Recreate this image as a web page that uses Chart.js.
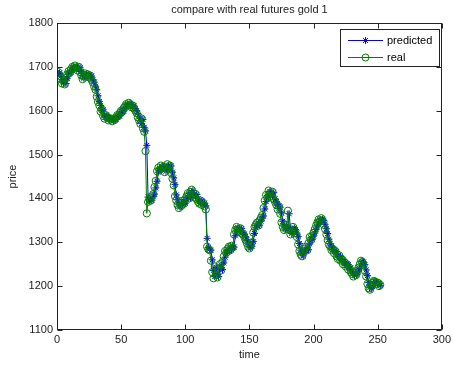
<!DOCTYPE html>
<html>
<head>
<meta charset="utf-8">
<script src="https://cdn.jsdelivr.net/npm/chart.js@4"></script>
<style>
  html, body { margin: 0; padding: 0; background: #fff; }
  #wrap { width: 454px; height: 368px; }
</style>
</head>
<body>
<div id="wrap"><canvas id="chart" width="454" height="368"></canvas></div>
<script>
// ---- data (one value per time step, t = 1..252) ----
const realPrice = [
  1688,1680,1672,1662,1668,1660,1675,1683,1690,1686,
  1695,1700,1697,1703,1698,1692,1700,1688,1680,1672,
  1678,1685,1679,1683,1676,1680,1670,1664,1655,1648,
  1632,1620,1612,1598,1603,1588,1582,1590,1585,1578,
  1583,1580,1576,1582,1579,1585,1590,1588,1595,1600,
  1598,1606,1610,1615,1612,1618,1614,1608,1612,1605,
  1600,1595,1585,1578,1570,1582,1560,1552,1508,1366,
  1392,1398,1395,1405,1410,1426,1440,1462,1470,1465,
  1475,1468,1472,1460,1470,1478,1466,1475,1458,1445,
  1430,1405,1395,1385,1378,1390,1383,1395,1388,1398,
  1405,1412,1400,1415,1420,1408,1402,1410,1398,1392,
  1388,1395,1385,1390,1382,1375,1290,1284,1282,1258,
  1232,1218,1245,1225,1220,1240,1250,1236,1255,1268,
  1280,1276,1285,1290,1282,1292,1288,1318,1328,1335,
  1330,1325,1332,1320,1318,1312,1305,1298,1290,1286,
  1292,1300,1322,1335,1340,1345,1338,1350,1356,1362,
  1378,1395,1408,1402,1418,1412,1405,1415,1398,1392,
  1385,1375,1382,1365,1345,1335,1328,1340,1330,1372,
  1330,1318,1325,1335,1328,1320,1312,1295,1280,1272,
  1268,1278,1285,1290,1282,1298,1312,1305,1315,1322,
  1330,1338,1345,1352,1348,1355,1350,1340,1330,1318,
  1305,1295,1290,1282,1285,1275,1280,1268,1262,1270,
  1258,1262,1250,1255,1245,1250,1238,1242,1232,1228,
  1222,1230,1225,1235,1242,1250,1258,1255,1248,1235,
  1222,1205,1195,1192,1200,1208,1212,1210,1205,1208,
  1200,1203
];

const predictedPrice = [
  1685,1686,1679,1671,1664,1667,1662,1674,1684,1689,
  1687,1694,1699,1698,1701,1697,1693,1698,1689,1681,
  1674,1678,1684,1680,1682,1677,1679,1671,1665,1656,
  1648,1634,1621,1612,1600,1602,1590,1584,1589,1585,
  1579,1582,1580,1577,1581,1580,1584,1589,1588,1594,
  1599,1599,1605,1609,1614,1613,1617,1614,1609,1611,
  1605,1600,1594,1586,1577,1571,1580,1562,1554,1521,
  1403,1394,1397,1396,1404,1410,1424,1439,1460,1468,
  1466,1474,1469,1471,1462,1469,1476,1467,1474,1460,
  1447,1432,1408,1397,1387,1380,1389,1385,1394,1389,
  1397,1404,1411,1402,1414,1418,1409,1403,1409,1399,
  1393,1389,1394,1386,1389,1383,1309,1288,1284,1282,
  1260,1236,1222,1243,1227,1222,1238,1248,1238,1253,
  1266,1278,1277,1284,1289,1283,1290,1289,1315,1326,
  1333,1330,1326,1331,1322,1319,1313,1306,1299,1291,
  1288,1291,1302,1320,1333,1339,1344,1339,1348,1355,
  1360,1376,1393,1406,1403,1416,1412,1406,1413,1399,
  1393,1386,1377,1380,1367,1348,1337,1330,1338,1331,
  1365,1331,1320,1324,1333,1329,1321,1313,1297,1282,
  1274,1269,1277,1284,1289,1283,1296,1310,1306,1314,
  1321,1329,1337,1344,1351,1348,1353,1350,1341,1331,
  1320,1307,1297,1291,1284,1284,1277,1279,1270,1264,
  1268,1259,1261,1252,1254,1247,1249,1240,1241,1234,
  1229,1224,1229,1226,1234,1240,1248,1256,1255,1249,
  1237,1224,1208,1198,1194,1199,1206,1210,1209,1206,
  1207,1201
];

const xTicks = [0, 50, 100, 150, 200, 250, 300];
const yTicks = [1100, 1200, 1300, 1400, 1500, 1600, 1700, 1800];
const seriesNames = ["predicted", "real"];
const titleText = "compare with real futures gold 1";
const xTitle = "time";
const yTitle = "price";

// ---- style ----
const FONT = "'Liberation Sans', Arial, sans-serif";
const BLUE = "#0000ff";
const GREEN = "#008000";
const INK = "#222";

// matlab style : box, inside ticks, titles, legend
const matlabFrame = {
  id: "matlabFrame",
  afterDraw(chart) {
    const c = chart.ctx;
    const a = chart.chartArea;
    const xs = chart.scales.x, ys = chart.scales.y;
    const L = Math.round(a.left) + 0.5, R = Math.round(a.right) - 0.5;
    const T = Math.round(a.top) + 0.5, B = Math.round(a.bottom) - 0.5;

    c.save();
    c.strokeStyle = INK;
    c.lineWidth = 1;
    c.strokeRect(L, T, R - L, B - T);

    // tick marks (inside, on all four sides)
    const tl = 5;
    c.beginPath();
    xTicks.forEach(v => {
      const px = Math.round(xs.getPixelForValue(v)) + 0.5;
      c.moveTo(px, B); c.lineTo(px, B - tl);
      c.moveTo(px, T); c.lineTo(px, T + tl);
    });
    yTicks.forEach(v => {
      const py = Math.round(ys.getPixelForValue(v)) + 0.5;
      c.moveTo(L, py); c.lineTo(L + tl, py);
      c.moveTo(R, py); c.lineTo(R - tl, py);
    });
    c.stroke();

    // titles
    c.fillStyle = INK;
    c.font = "11px " + FONT;
    c.textAlign = "center";
    c.textBaseline = "middle";
    c.fillText(titleText, (a.left + a.right) / 2, 10);
    c.fillText(xTitle, (a.left + a.right) / 2, 355);
    c.translate(13, (a.top + a.bottom) / 2);
    c.rotate(-Math.PI / 2);
    c.fillText(yTitle, 0, 0);
    c.setTransform(1, 0, 0, 1, 0, 0);

    // legend
    const bx = 340.5, by = 29.5, bw = 99, bh = 37;
    c.fillStyle = "#fff";
    c.fillRect(bx, by, bw, bh);
    c.strokeStyle = INK;
    c.strokeRect(bx, by, bw, bh);
    const rows = [
      { name: seriesNames[0], color: BLUE, y: 40.5, marker: "star" },
      { name: seriesNames[1], color: GREEN, y: 57.5, marker: "circle" }
    ];
    rows.forEach(r => {
      c.strokeStyle = r.color;
      c.lineWidth = 1;
      c.beginPath();
      c.moveTo(348, r.y); c.lineTo(383, r.y);
      c.stroke();
      c.fillStyle = "rgba(0,0,0,0)";
      Chart.helpers.drawPoint(c, { pointStyle: r.marker, radius: 3.5, borderWidth: 1 }, 365.5, r.y);
      c.fillStyle = "#000";
      c.textAlign = "left";
      c.fillText(r.name, 387, r.y);
    });
    c.restore();
  }
};

const plainTick = v => String(v);

const chart = new Chart(document.getElementById("chart"), {
  type: "line",
  data: {
    datasets: [
      {
        label: seriesNames[1],
        data: realPrice.map((v, i) => ({ x: i + 1, y: v })),
        borderColor: GREEN,
        backgroundColor: "rgba(0,0,0,0)",
        borderWidth: 1,
        pointStyle: "circle",
        pointRadius: 3.6,
        pointBorderWidth: 1,
        pointBorderColor: GREEN,
        pointBackgroundColor: "rgba(0,0,0,0)",
        tension: 0,
        order: 0
      },
      {
        label: seriesNames[0],
        data: predictedPrice.map((v, i) => ({ x: i + 1, y: v })),
        borderColor: BLUE,
        backgroundColor: "rgba(0,0,0,0)",
        borderWidth: 1,
        pointStyle: "star",
        pointRadius: 3.5,
        pointBorderWidth: 1,
        pointBorderColor: BLUE,
        tension: 0,
        order: 1
      }
    ]
  },
  options: {
    responsive: false,
    animation: false,
    devicePixelRatio: 1,
    layout: { padding: { left: 0, right: 9, top: 23, bottom: 0 } },
    plugins: {
      legend: { display: false },
      title: { display: false },
      tooltip: { enabled: false }
    },
    scales: {
      x: {
        type: "linear",
        min: 0, max: 300,
        afterBuildTicks: s => { s.ticks = xTicks.map(v => ({ value: v })); },
        afterFit: s => { s.height = 38; },
        grid: { display: false, drawTicks: false },
        border: { display: false },
        ticks: { color: INK, font: { family: FONT, size: 11 }, padding: 3, maxRotation: 0, callback: plainTick }
      },
      y: {
        min: 1100, max: 1800,
        afterBuildTicks: s => { s.ticks = yTicks.map(v => ({ value: v })); },
        afterFit: s => { s.width = 57; },
        grid: { display: false, drawTicks: false },
        border: { display: false },
        ticks: { color: INK, font: { family: FONT, size: 11 }, padding: 4, callback: plainTick }
      }
    }
  },
  plugins: [matlabFrame]
});
</script>
</body>
</html>
